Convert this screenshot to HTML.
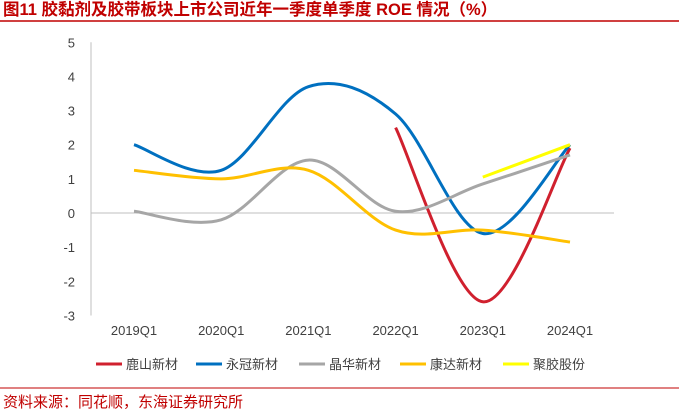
<!DOCTYPE html>
<html><head><meta charset="utf-8"><style>
body{margin:0;background:#fff;width:679px;height:415px;overflow:hidden;font-family:"Liberation Sans","Noto Sans CJK SC",sans-serif}
</style></head><body>
<svg width="679" height="415" xmlns="http://www.w3.org/2000/svg" font-family="Liberation Sans, Noto Sans CJK SC, sans-serif">
<text x="3" y="15" font-size="16.5" font-weight="bold" fill="#c00000">图11  胶黏剂及胶带板块上市公司近年一季度单季度 ROE 情况（%）</text>
<line x1="0" y1="21" x2="679" y2="21" stroke="#c00000" stroke-width="1.5"/>
<g id="axes"></g>
<g id="series"></g>
<g id="legend"></g>
<line x1="0" y1="388" x2="679" y2="388" stroke="#c00000" stroke-width="1"/>
<text x="3" y="407" font-size="15" fill="#c00000">资料来源：同花顺，东海证券研究所</text>
</svg>
<script>
const categories=["2019Q1","2020Q1","2021Q1","2022Q1","2023Q1","2024Q1"];
const yTicks=[5,4,3,2,1,0,-1,-2,-3];
const seriesNames=["鹿山新材","永冠新材","晶华新材","康达新材","聚胶股份"];
const seriesColors=["#d0202e","#0070c0","#a6a6a6","#ffc000","#ffff00"];
const luShan=[null,null,null,2.5,-2.6,1.9];
const yongGuan=[2.0,1.25,3.7,2.9,-0.6,2.0];
const jingHua=[0.05,-0.2,1.55,0.05,0.85,1.7];
const kangDa=[1.25,1.0,1.25,-0.5,-0.5,-0.85];
const juJiao=[null,null,null,null,1.05,2.0];
const allSeries=[luShan,yongGuan,jingHua,kangDa,juJiao];
const NS="http://www.w3.org/2000/svg";
const X=i=>134+i*87.2, Y=v=>213-v*34.15;
function mk(t,a,p){const e=document.createElementNS(NS,t);for(const k in a)e.setAttribute(k,a[k]);p.appendChild(e);return e;}
const ax=document.getElementById('axes');
const yl=mk('line',{x1:91,y1:Y(5),x2:91,y2:Y(-3),stroke:'#bfbfbf'},ax);


const xl=mk('line',{x1:91,y1:Y(0),x2:614,y2:Y(0),stroke:'#bfbfbf'},ax);


yTicks.forEach(v=>{const t=mk('text',{x:75,y:Y(v)+5,'font-size':13,'text-anchor':'end',fill:'#404040'},ax);t.textContent=v;

});
categories.forEach((c,i)=>{const t=mk('text',{x:X(i),y:335,'font-size':13,'text-anchor':'middle',fill:'#404040'},ax);t.textContent=c;

});
const sg=document.getElementById('series');
allSeries.forEach((s,k)=>{
 const pts=[];s.forEach((v,i)=>{if(v!==null)pts.push([X(i),Y(v)]);});
 let d='M'+pts[0][0]+','+pts[0][1];
 for(let i=0;i<pts.length-1;i++){const p0=pts[i-1]||pts[i],p1=pts[i],p2=pts[i+1],p3=pts[i+2]||p2;const t=6;
  d+=` C${p1[0]+(p2[0]-p0[0])/t},${p1[1]+(p2[1]-p0[1])/t} ${p2[0]-(p3[0]-p1[0])/t},${p2[1]-(p3[1]-p1[1])/t} ${p2[0]},${p2[1]}`;}
 const p=mk('path',{d:d,fill:'none',stroke:seriesColors[k],'stroke-width':3},sg);
 
 
});
const lg=document.getElementById('legend');
const lx=[96,196,299,400,503];
seriesNames.forEach((n,k)=>{
 const g=mk('g',{},lg);
 
 
 mk('line',{x1:lx[k],y1:364,x2:lx[k]+26,y2:364,stroke:seriesColors[k],'stroke-width':3},g);
 const t=mk('text',{x:lx[k]+30,y:369,'font-size':13,fill:'#404040'},g);t.textContent=n;
});
</script>
</body></html>
